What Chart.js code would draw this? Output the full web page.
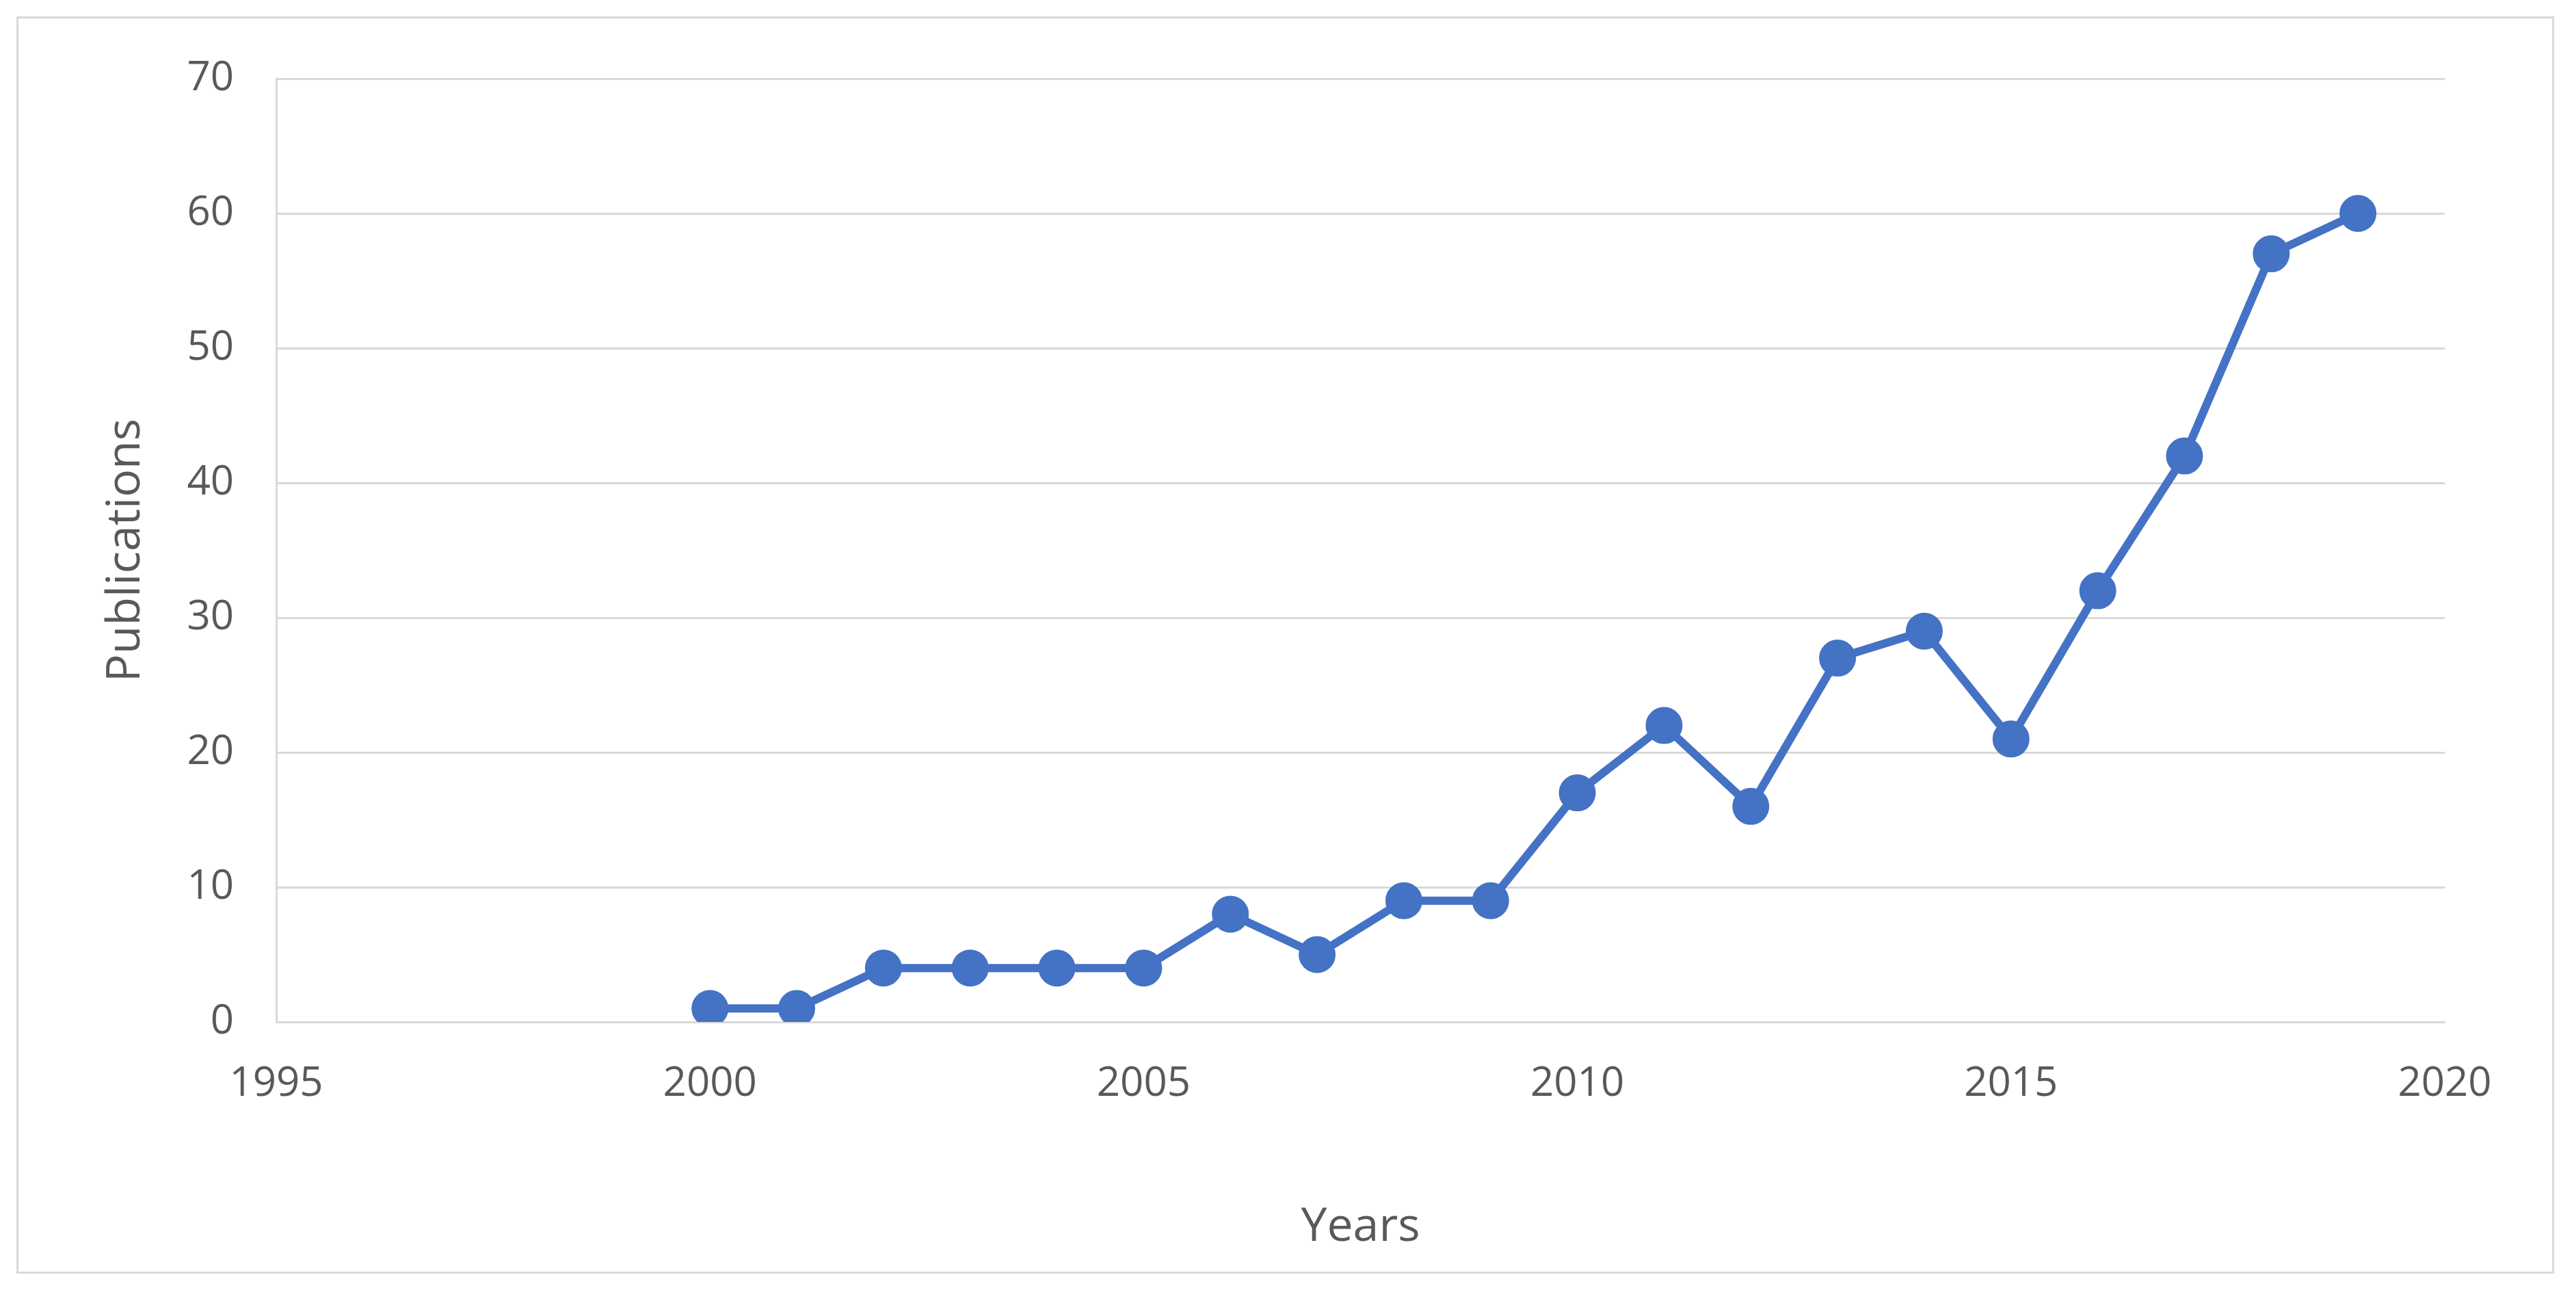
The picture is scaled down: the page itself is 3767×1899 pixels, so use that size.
<!DOCTYPE html>
<html><head><meta charset="utf-8">
<script src="https://cdn.jsdelivr.net/npm/chart.js@4/dist/chart.umd.min.js"></script>
<style>
html,body{margin:0;padding:0;background:#fff;}
#frame{position:absolute;left:24px;top:24px;width:3705px;height:1832px;border:3px solid #d9d9d9;}
#wrap{position:absolute;left:0;top:0;width:3767px;height:1899px;}
</style></head><body>
<div id="frame"></div>
<div id="wrap"><canvas id="c" width="3767" height="1899"></canvas></div>
<script>
const years = [2000,2001,2002,2003,2004,2005,2006,2007,2008,2009,2010,2011,2012,2013,2014,2015,2016,2017,2018,2019];
const publications = [1,1,4,4,4,4,8,5,9,9,17,22,16,27,29,21,32,42,57,60];
const xTicks = [1995,2000,2005,2010,2015,2020];
const yTicks = [0,10,20,30,40,50,60,70];
const textColor = '#595959';
const fam = 'Open Sans';
new Chart(document.getElementById('c'), {
  type: 'line',
  data: { datasets: [{
    data: years.map((y,i)=>({x:y,y:publications[i]})),
    borderColor:'#4472C4', backgroundColor:'#4472C4',
    borderWidth:12, pointRadius:21, pointHoverRadius:21, tension:0
  }]},
  options: {
    responsive:false, animation:false,
    layout:{padding:{left:140,right:192,top:115,bottom:60}},
    plugins:{legend:{display:false},tooltip:{enabled:false}},
    scales:{
      x:{type:'linear',min:1995,max:2020,
        afterBuildTicks:a=>{a.ticks=xTicks.map(v=>({value:v}));},
        afterFit:a=>{a.height=345;},
        grid:{display:false,drawTicks:false},
        border:{color:'#d9d9d9',width:3},
        ticks:{color:textColor,font:{size:60,family:fam},padding:55,callback:v=>String(v)},
        title:{display:true,text:'Years',color:textColor,font:{size:68,family:fam},padding:{top:30}}},
      y:{min:0,max:70,
        afterBuildTicks:a=>{a.ticks=yTicks.map(v=>({value:v}));},
        afterFit:a=>{a.width=264;},
        grid:{color:'#d9d9d9',lineWidth:3,drawTicks:false},
        border:{color:'#d9d9d9',width:3},
        ticks:{color:textColor,font:{size:60,family:fam},padding:62},
        title:{display:true,text:'Publications',color:textColor,font:{size:68,family:fam},padding:{bottom:10}}}
    }
  }
});
</script></body></html>
